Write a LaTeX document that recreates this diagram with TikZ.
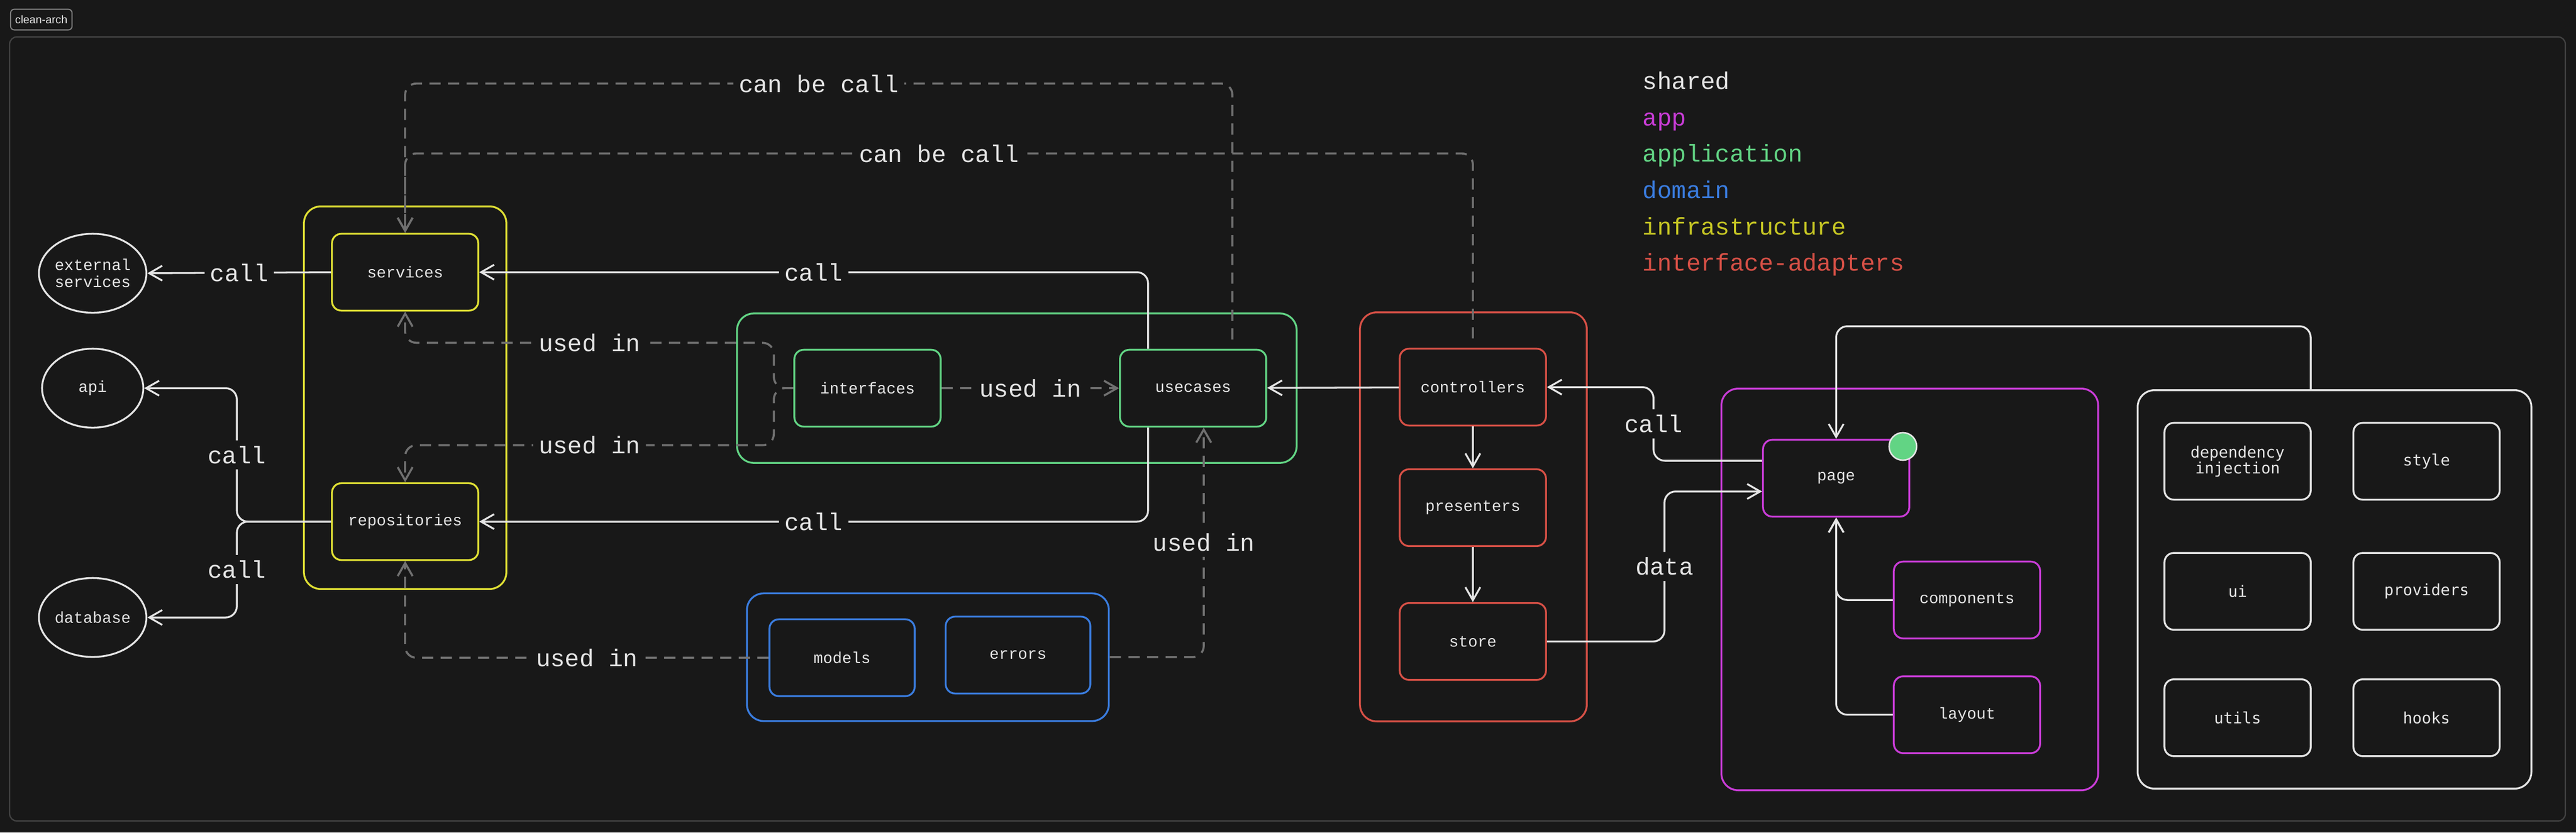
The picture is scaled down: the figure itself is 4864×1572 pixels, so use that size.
\documentclass[tikz,border=0pt]{standalone}
\usepackage{fontspec}
\setmonofont{Liberation Mono}
\newfontfamily\sharedfont{DejaVu Sans Mono}
\newfontfamily\tagfont{Liberation Sans}
\usetikzlibrary{arrows.meta,positioning,shapes.geometric}

\definecolor{bg}{RGB}{24,24,24}
\definecolor{fg}{RGB}{228,228,228}
\definecolor{hintgray}{RGB}{112,112,112}
\definecolor{framegray}{RGB}{66,66,66}
\definecolor{infra}{RGB}{222,222,52}
\definecolor{infratext}{RGB}{198,198,36}
\definecolor{appl}{RGB}{98,212,132}
\definecolor{dom}{RGB}{58,124,222}
\definecolor{adapt}{RGB}{214,80,70}
\definecolor{appc}{RGB}{200,60,214}

\newcommand{\boxfont}{\fontsize{8.5}{9}\selectfont\ttfamily}
\newcommand{\labfont}{\fontsize{13}{15}\selectfont\ttfamily}

\begin{document}
\begin{tikzpicture}[>={Straight Barb[length=7pt,width=8pt]},x=0.01cm,y=-0.01cm,
  line width=1pt,
  layer box/.style={rectangle,draw,rounded corners=5pt,minimum width=2.76cm,
    minimum height=1.45cm,font=\boxfont,text=fg,align=center},
  shared box/.style={layer box,draw=fg,font=\sharedfont\fontsize{8.4}{8.6}\selectfont},
  group box/.style={rectangle,draw,rounded corners=9pt,inner sep=0pt},
  ext node/.style={ellipse,draw=fg,minimum width=1.91cm,minimum height=1.49cm,
    inner sep=0pt,font=\boxfont,text=fg,align=center},
  edge label/.style={fill=bg,font=\labfont,text=fg,inner sep=3pt},
  link/.style={->,draw=fg,rounded corners=6pt},
  hint/.style={->,draw=hintgray,line width=1.1pt,dash pattern=on 6pt off 4pt,rounded corners=6pt},
  legend/.style={font=\labfont,anchor=base west,inner sep=0pt}]

  \fill[bg] (0,0) rectangle (4864,1572);
  \useasboundingbox (0,0) rectangle (4864,1572);

  % frame and tag
  \node[draw=framegray,line width=0.7pt,rounded corners=4pt,minimum width=48.23cm,
    minimum height=14.8cm,inner sep=0pt] (frame) at (2431,810) {};
  \node[draw=gray,line width=0.6pt,rounded corners=2pt,minimum width=1.16cm,
    minimum height=0.39cm,inner sep=0pt,text=fg,font=\tagfont\fontsize{6}{7}\selectfont]
    (tag) at (78,37) {clean-arch};

  % legend
  \foreach \name/\col [count=\i] in {shared/fg,app/appc,application/appl,domain/dom,
      infrastructure/infratext,interface-adapters/adapt}
    \node[legend,text=\col] (leg\i) at (3100,100+68.6*\i) {\name};

  % groups
  \node[group box,draw=infra,minimum width=3.82cm,minimum height=7.22cm] (infragrp) at (765,751) {};
  \node[group box,draw=appl,minimum width=10.56cm,minimum height=2.82cm] (applgrp) at (1920,733) {};
  \node[group box,draw=dom,minimum width=6.83cm,minimum height=2.41cm] (domain) at (1752,1241) {};
  \node[group box,draw=adapt,minimum width=4.28cm,minimum height=7.72cm] (adaptgrp) at (2782,976) {};
  \node[group box,draw=appc,minimum width=7.11cm,minimum height=7.58cm] (appgrp) at (3606,1113) {};
  \node[group box,draw=fg,minimum width=7.43cm,minimum height=7.52cm] (shared) at (4408,1113) {};

  % outside world
  \node[ext node] (ext) at (175,516) {external\\services};
  \node[ext node] (api) at (175,733) {api};
  \node[ext node] (database) at (175,1166) {database};

  % infrastructure
  \node[layer box,draw=infra] (services) at (765,514) {services};
  \node[layer box,draw=infra] (repositories) at (765,985) {repositories};

  % application
  \node[layer box,draw=appl] (interfaces) at (1638,733) {interfaces};
  \node[layer box,draw=appl,right=3.35cm of interfaces] (usecases) {usecases};

  % domain
  \node[layer box,draw=dom,minimum width=2.74cm] (models) at (1590,1242) {models};
  \node[layer box,draw=dom,minimum width=2.73cm,right=0.55cm of models,yshift=0.05cm] (errors) {errors};

  % interface-adapters
  \node[layer box,draw=adapt] (controllers) at (2781,731) {controllers};
  \node[layer box,draw=adapt,below=0.79cm of controllers] (presenters) {presenters};
  \node[layer box,draw=adapt,below=1.04cm of presenters] (store) {store};

  % app
  \node[layer box,draw=appc] (page) at (3467,903) {page};
  \node[circle,fill=appl,draw=fg,line width=0.8pt,minimum size=0.52cm,inner sep=0pt] (pagedot) at (3593,843) {};
  \node[layer box,draw=appc] (components) at (3714,1133) {components};
  \node[layer box,draw=appc,below=0.68cm of components] (layout) {layout};

  % shared
  \node[shared box] (di) at (4225,871) {dependency\\injection};
  \node[shared box,right=0.77cm of di] (style) {style};
  \node[shared box,below=0.97cm of di] (ui) {ui};
  \node[shared box,right=0.77cm of ui] (providers) {providers};
  \node[shared box,below=0.90cm of ui] (utils) {utils};
  \node[shared box,right=0.77cm of utils] (hooks) {hooks};

  % calls
  \draw[link] (services.west) -- node[edge label] {call} (ext.east);
  \draw[link] (repositories.west) -- ++(-178,0) |- node[edge label,pos=0.25] {call} (api.east);
  \draw[link] (repositories.west) -- ++(-178,0) |- node[edge label,pos=0.25] {call} (database.east);
  \draw[link] ([xshift=-0.85cm]usecases.north) |- node[edge label,pos=0.75] {call} (services.east);
  \draw[link] ([xshift=-0.85cm]usecases.south) |- node[edge label,pos=0.75] {call} (repositories.east);
  \draw[link] ([yshift=0.33cm]page.west) -- ++(-205,0) |- node[edge label,pos=0.25] {call} (controllers.east);
  \draw[link] (store.east) -- ++(222,0) |- node[edge label,pos=0.25] {data} ([yshift=-0.25cm]page.west);
  \draw[link] ([xshift=-0.45cm]shared.north) -- ++(0,-119) -| (page.north);
  \draw[link] (components.west) -| (page.south);
  \draw[link] (layout.west) -| (page.south);

  \path[link]
    (controllers) edge (usecases)
    (controllers) edge (presenters)
    (presenters) edge (store);

  % dependencies
  \draw[hint,shorten <=5pt] ([xshift=0.74cm]usecases.north) -- ++(0,-501)
    -| node[edge label,pos=0.25] {can be call} (services.north);
  \draw[hint,shorten <=5pt] (controllers.north) -- ++(0,-367)
    -| node[edge label,pos=0.25] {can be call} (services.north);
  \draw[hint] (interfaces.west) -- ++(-37,0)
    |- node[edge label,pos=0.75] {used in} ([yshift=-0.59cm]services.south) -- (services.south);
  \draw[hint] (interfaces.west) -- ++(-37,0)
    |- node[edge label,pos=0.75] {used in} ([yshift=0.70cm]repositories.north) -- (repositories.north);
  \draw[hint] (interfaces.east) -- node[edge label] {used in} (usecases.west);
  \draw[hint] (models.west) -| node[edge label,pos=0.25] {used in} (repositories.south);
  \draw[hint] (domain.east) -| node[edge label,pos=0.75] {used in} ([xshift=0.2cm]usecases.south);

\end{tikzpicture}
\end{document}
